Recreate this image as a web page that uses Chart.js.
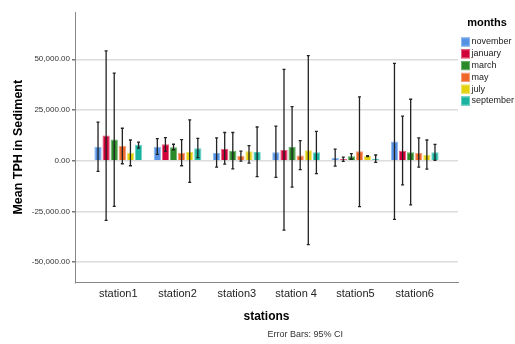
<!DOCTYPE html>
<html><head><meta charset="utf-8">
<script src="https://cdn.jsdelivr.net/npm/chart.js@4.4.0/dist/chart.umd.min.js"></script>
<style>html,body{margin:0;padding:0;background:#fff;}#wrap{width:515px;height:344px;position:relative}</style>
</head><body><div id="wrap"><canvas id="c" width="515" height="344"></canvas></div>
<script>
const stations = ['station1','station2','station3','station 4','station5','station6'];
const months = ['november','january','march','may','july','september'];
const yTicks = [-50000,-25000,0,25000,50000];

const novemberMean = [6900, 6900, 3760, 4100, 1500, 9400];
const novemberLow  = [-5300, 3100, -3200, -8270, -2650, -28900];
const novemberHigh = [19000, 10900, 11200, 17000, 5750, 48000];

const januaryMean = [12400, 8070, 5940, 5250, 800, 4950];
const januaryLow  = [-29400, 4600, -1700, -34200, -300, -11900];
const januaryHigh = [54100, 11400, 13900, 45000, 1800, 22000];

const marchMean = [10400, 6600, 4950, 6930, 2130, 4100];
const marchLow  = [-22500, 5400, -4000, -13000, 700, -21800];
const marchHigh = [43200, 8100, 13900, 26700, 3460, 30300];

const mayMean = [7230, 3960, 2280, 2600, 4600, 3760];
const mayLow  = [-1500, -2500, -200, -4450, -22600, -3200];
const mayHigh = [16000, 10400, 4750, 9900, 31500, 11200];

const julyMean = [3760, 4450, 4600, 5100, 2280, 2970];
const julyLow  = [-2500, -10700, -1200, -41400, 2050, -4150];
const julyHigh = [10200, 20100, 7400, 51800, 2500, 10200];

const septemberMean = [7900, 6100, 4260, 4100, 1000, 4100];
const septemberLow  = [6200, 1500, -7900, -6400, -850, 150];
const septemberHigh = [9200, 11000, 16600, 14500, 2800, 8070];

const means = [novemberMean, januaryMean, marchMean, mayMean, julyMean, septemberMean];
const lows  = [novemberLow, januaryLow, marchLow, mayLow, julyLow, septemberLow];
const highs = [novemberHigh, januaryHigh, marchHigh, mayHigh, julyHigh, septemberHigh];

const colors  = ['#5592E4','#D2003A','#2A8A2A','#F0672C','#E3D30E','#19B3A0'];
const borders = ['#8DB8EE','#E2607F','#6CB06C','#F6A07A','#EEE36A','#6ED0C3'];

const FAM = "'Liberation Sans', Arial, sans-serif";

const fmt = v => (v < 0 ? '-' : '') + Math.abs(v).toLocaleString('en-US',{minimumFractionDigits:2, maximumFractionDigits:2});

const errorBars = {
  id:'errorBars',
  afterDatasetsDraw(chart){
    const ctx = chart.ctx, ys = chart.scales.y;
    chart.data.datasets.forEach((ds,k)=>{
      const meta = chart.getDatasetMeta(k);
      meta.data.forEach((bar,i)=>{
        const x = bar.x;
        const yl = ys.getPixelForValue(lows[k][i]);
        const yh = ys.getPixelForValue(highs[k][i]);
        ctx.save();
        ctx.strokeStyle = '#222';
        ctx.lineWidth = 1.3;
        ctx.beginPath();
        ctx.moveTo(x, yl); ctx.lineTo(x, yh);
        ctx.moveTo(x-1.5, yl); ctx.lineTo(x+1.5, yl);
        ctx.moveTo(x-1.5, yh); ctx.lineTo(x+1.5, yh);
        ctx.stroke();
        ctx.restore();
      });
    });
  }
};

const sideLegend = {
  id:'sideLegend',
  afterDraw(chart){
    const ctx = chart.ctx;
    ctx.save();
    ctx.fillStyle = '#000';
    ctx.font = "bold 11px " + FAM;
    ctx.textAlign = 'center';
    ctx.textBaseline = 'middle';
    ctx.fillText('months', 487, 23);
    ctx.font = "9px " + FAM;
    ctx.textAlign = 'left';
    months.forEach((m,i)=>{
      const cy = 42 + i*11.8;
      ctx.fillStyle = colors[i];
      ctx.fillRect(461, cy-4.5, 9, 9);
      ctx.strokeStyle = borders[i];
      ctx.lineWidth = 1;
      ctx.strokeRect(461.5, cy-4, 8, 8);
      ctx.fillStyle = '#222';
      ctx.fillText(m, 471.5, cy);
    });
    const ca = chart.chartArea;
    ctx.font = "9px " + FAM;
    ctx.fillStyle = '#333';
    ctx.textAlign = 'left';
    ctx.fillText('Error Bars: 95% CI', (ca.left+ca.right)/2 + 1, 335);
    ctx.restore();
  }
};

new Chart(document.getElementById('c'), {
  type:'bar',
  data:{
    datasets: months.map((m,k)=>({
      label:m,
      data: means[k].map((v,i)=>({x:i+1, y:v})),
      backgroundColor: colors[k],
      borderColor: borders[k],
      borderWidth: 1,
      categoryPercentage: 0.82,
      barPercentage: 0.9
    }))
  },
  options:{
    animation:false,
    responsive:false,
    layout:{padding:{left:4, right:57, top:12, bottom:20}},
    plugins:{legend:{display:false}, tooltip:{enabled:false}},
    scales:{
      x:{
        type:'linear', min:0.27, max:6.73, offset:false,
        grid:{display:false, drawTicks:false, tickLength:0},
        border:{display:true, color:'#888', width:1},
        afterBuildTicks: s => { s.ticks = stations.map((_,i)=>({value:i+1})); },
        ticks:{callback: v => stations[v-1], font:{family:FAM, size:11}, color:'#222', padding:5, maxRotation:0, autoSkip:false},
        title:{display:true, text:'stations', font:{family:FAM, size:12, weight:'bold'}, color:'#000', padding:{top:4, bottom:0}}
      },
      y:{
        min:-60000, max:73300,
        afterBuildTicks: s => { s.ticks = yTicks.map(v=>({value:v})); },
        ticks:{callback: v => fmt(v), font:{family:FAM, size:8}, color:'#333', padding:2},
        grid:{color:'#dcdcdc', lineWidth:1.5, tickLength:3, tickColor:'#777'},
        border:{display:true, color:'#888', width:1},
        title:{display:true, text:'Mean TPH in Sediment', font:{family:FAM, size:12.5, weight:'bold'}, color:'#000', padding:{top:7, bottom:4}},
        afterFit: s => { s.width = 71; }
      }
    }
  },
  plugins:[errorBars, sideLegend]
});
</script></body></html>
